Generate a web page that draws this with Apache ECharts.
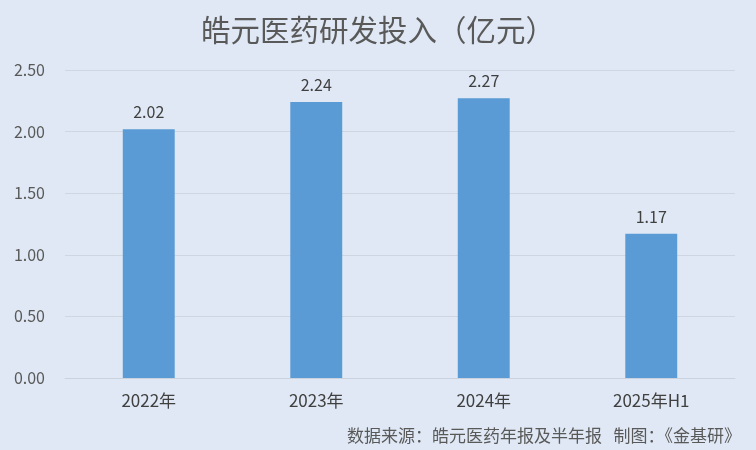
<!DOCTYPE html>
<html><head><meta charset="utf-8">
<script src="https://cdn.jsdelivr.net/npm/echarts@6/dist/echarts.min.js"></script>
<style>html,body{margin:0;padding:0;background:#dfe8f4;}#c{width:756px;height:450px;}</style>
</head><body><div id="c"></div>
<script>
const categories = ['2022年', '2023年', '2024年', '2025年H1'];
const values = [2.02, 2.24, 2.27, 1.17];
const yTicks = { min: 0, max: 2.5, interval: 0.5 };
const titleText = '皓元医药研发投入（亿元）';
const sourceText = '数据来源：皓元医药年报及半年报   制图：《金基研》';

const font = '"Noto Sans CJK SC", "Microsoft YaHei", sans-serif';
const chart = echarts.init(document.getElementById('c'));
chart.setOption({
  backgroundColor: '#dfe8f4',
  animation: false,
  title: {
    text: titleText, left: 'center', top: 10,
    textStyle: { fontFamily: font, fontSize: 29.5, fontWeight: 'normal', color: '#595959' }
  },
  graphic: [{
    type: 'text', left: 347, top: 427,
    style: { text: sourceText, font: '17px ' + font, fill: '#595959' }
  }],
  grid: { left: 65, right: 21, top: 70, bottom: 72, containLabel: false },
  xAxis: {
    type: 'category', data: categories,
    axisLine: { show: true, lineStyle: { color: '#c9d2dd' } },
    axisTick: { show: false },
    axisLabel: { fontFamily: font, fontSize: 17, color: '#404040', margin: 14 }
  },
  yAxis: {
    type: 'value', min: yTicks.min, max: yTicks.max, interval: yTicks.interval,
    axisLine: { show: false }, axisTick: { show: false },
    splitLine: { lineStyle: { color: '#cdd6e1' } },
    axisLabel: { fontFamily: font, fontSize: 16, color: '#595959', margin: 20,
      formatter: v => v.toFixed(2) }
  },
  series: [{
    type: 'bar', data: values, barWidth: '31%',
    itemStyle: { color: '#5b9bd5' },
    label: { show: true, position: 'top', distance: 9, fontFamily: font, fontSize: 16, color: '#404040',
      formatter: p => p.value.toFixed(2) }
  }]
});
</script></body></html>
